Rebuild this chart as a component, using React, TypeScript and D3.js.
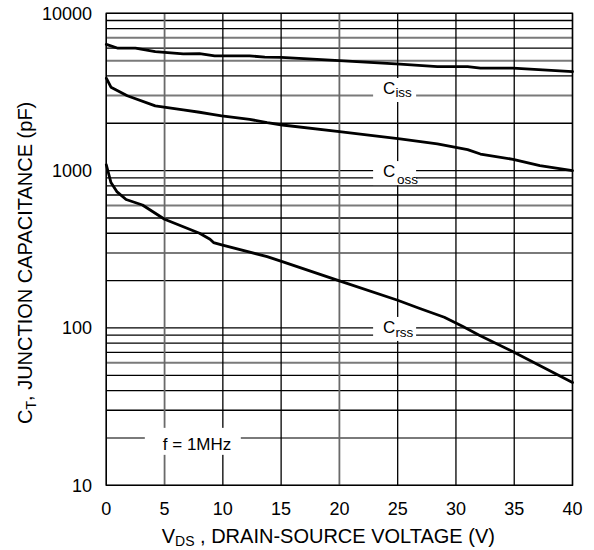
import React from "react";
import * as d3 from "d3";

// ---- data ----
const vdsTicks = [0, 5, 10, 15, 20, 25, 30, 35, 40];
const capTicks = [10, 100, 1000, 10000];

const cissV = [0, 1, 2.5, 4.2, 6.6, 8.0, 9.3, 12.3, 13.6, 15, 20, 25.2, 28.4, 31, 32.1, 34.9, 40];
const cissC = [6350, 6000, 6000, 5700, 5520, 5550, 5360, 5360, 5260, 5250, 5000, 4750, 4580, 4580, 4480, 4480, 4260];

const cossV = [0, 0.4, 1.8, 4.2, 6.6, 8.0, 9.1, 9.9, 12.3, 13.8, 15.1, 20, 25.2, 28.4, 31, 32.1, 34.9, 37.2, 40];
const cossC = [3870, 3390, 2990, 2580, 2430, 2350, 2280, 2230, 2120, 2020, 1950, 1770, 1590, 1480, 1360, 1275, 1180, 1075, 1000];

const crssV = [0, 0.4, 0.9, 1.7, 3.1, 5.0, 8.0, 8.9, 9.2, 9.9, 13.8, 15.1, 20, 25, 26.9, 29, 30.6, 32, 34.9, 40];
const crssC = [1090, 840, 736, 655, 605, 491, 400, 366, 349, 337, 284, 264, 199, 150, 133, 117, 102, 90, 70.6, 45];

// series labels
const seriesLabels = [
  { main: "C", sub: "iss", v: 23.75, c: 3070, subDy: 3.5, subDx: 0 },
  { main: "C", sub: "oss", v: 23.75, c: 910, subDy: 7, subDx: 1.5 },
  { main: "C", sub: "rss", v: 23.75, c: 93, subDy: 4.5, subDx: 0 },
];

// scanned grid: some lines print grey and heavier
const greyH = [7000, 5000, 3000, 600, 300, 60, 20];
const greyV = [5, 20];

const FONT = "'Liberation Sans', Arial, Helvetica, sans-serif";

export default function App() {
  const W = 594;
  const H = 550;
  const left = 106.3;
  const right = 572.5;
  const top = 13.3;
  const bottom = 485.3;

  const x = d3.scaleLinear().domain([0, 40]).range([left, right]);
  const y = d3.scaleLog().domain([10, 10000]).range([bottom, top]);

  const line = d3
    .line<[number, number]>()
    .x((d) => x(d[0]))
    .y((d) => y(d[1]))
    .curve(d3.curveLinear);

  const series = [
    cissV.map((v, i) => [v, cissC[i]] as [number, number]),
    cossV.map((v, i) => [v, cossC[i]] as [number, number]),
    crssV.map((v, i) => [v, crssC[i]] as [number, number]),
  ];

  const hGrid = y.ticks(30).filter((t) => t >= 10 && t <= 10000);

  const boxes = seriesLabels.map((l) => ({
    x0: x(l.v) - 10,
    x1: x(l.v) + 33,
    y0: y(l.c) - 16,
    y1: y(l.c) + 8,
  }));
  const fx = x(4.85);
  const fy = y(16.8);
  boxes.push({ x0: fx - 18, x1: fx + 78, y0: fy - 22, y1: fy + 5 });

  return (
    <svg
      width={W}
      height={H}
      style={{ position: "absolute", left: 0, top: 0, background: "#fff" }}
      fontFamily={FONT}
    >
      <rect x={0} y={0} width={W} height={H} fill="#fff" />
      {hGrid.map((t) => {
        const grey = greyH.some((g) => Math.abs(g - t) < 1e-6);
        return (
          <line
            key={"h" + t}
            x1={left}
            x2={right}
            y1={y(t)}
            y2={y(t)}
            stroke={grey ? "#7a7a7a" : "#000"}
            strokeWidth={grey ? 2 : 1.3}
          />
        );
      })}
      {vdsTicks.map((t) => {
        const grey = greyV.includes(t);
        return (
          <line
            key={"v" + t}
            x1={x(t)}
            x2={x(t)}
            y1={top}
            y2={bottom}
            stroke={grey ? "#6a6a6a" : "#000"}
            strokeWidth={grey ? 1.8 : 1.3}
          />
        );
      })}
      <rect
        x={left}
        y={top}
        width={right - left}
        height={bottom - top}
        fill="none"
        stroke="#000"
        strokeWidth={1.4}
      />
      {boxes.map((b, i) => (
        <rect key={"b" + i} x={b.x0} y={b.y0} width={b.x1 - b.x0} height={b.y1 - b.y0} fill="#fff" />
      ))}
      {series.map((s, i) => (
        <path
          key={"s" + i}
          d={line(s) || ""}
          fill="none"
          stroke="#000"
          strokeWidth={2.8}
          strokeLinejoin="round"
          strokeLinecap="round"
        />
      ))}
      {seriesLabels.map((l, i) => (
        <text key={"l" + i} x={x(l.v)} y={y(l.c)} fontSize={17} fill="#000">
          {l.main}
          <tspan dx={l.subDx} dy={l.subDy} fontSize={13.5}>
            {l.sub}
          </tspan>
        </text>
      ))}
      <text x={fx} y={fy} fontSize={17} fill="#000">
        f = 1MHz
      </text>
      {vdsTicks.map((t) => (
        <text key={"xt" + t} x={x(t)} y={515} fontSize={18} textAnchor="middle" fill="#000">
          {t}
        </text>
      ))}
      {capTicks.map((t) => (
        <text key={"yt" + t} x={92} y={y(t) + 6.5} fontSize={18} textAnchor="end" fill="#000">
          {t}
        </text>
      ))}
      <text x={161.7} y={543} fontSize={20} fill="#000">
        V
        <tspan dy={3} fontSize={14}>
          DS
        </tspan>
        <tspan dy={-3}>{"\u00a0, DRAIN-SOURCE VOLTAGE (V)"}</tspan>
      </text>
      <text transform="translate(32,424) rotate(-90)" fontSize={20} fill="#000">
        C
        <tspan dy={4} fontSize={14}>
          T
        </tspan>
        <tspan dy={-4}>, JUNCTION CAPACITANCE (pF)</tspan>
      </text>
    </svg>
  );
}
